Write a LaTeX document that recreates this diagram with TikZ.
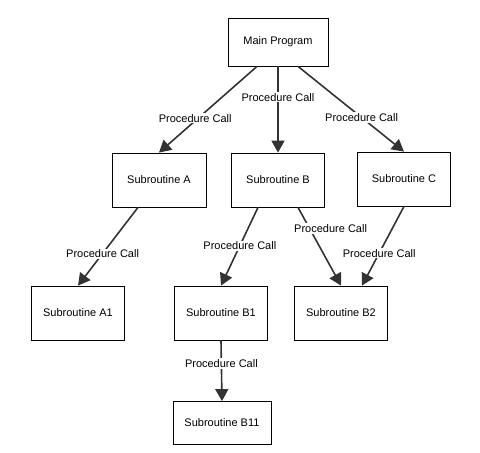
\documentclass[tikz,border=0pt]{standalone}
\usepackage{fontspec}
\setmainfont{Liberation Sans}
\usetikzlibrary{arrows.meta}
\begin{document}
\begin{tikzpicture}[x=1pt,y=-1pt,
  routine/.style={draw=black, line width=0.8pt, fill=white, minimum width=94pt, minimum height=54pt, inner sep=0pt, font=\fontsize{11}{13}\selectfont},
  call/.style={draw=black!80, line width=1.6pt, -{Triangle[length=12pt,width=13pt]}},
  calltext/.style={fill=white, inner sep=1pt, font=\fontsize{11}{13}\selectfont}]
%% The picture is laid out in pixel units, with y going down, so the page keeps the size of the drawing.
\useasboundingbox (0,0) rectangle (480,453);
%% Top level: the main program.
\node[routine, minimum width=100pt, minimum height=48pt] (main) at (278,42) {Main Program};
%% Second row of subroutines.
\node[routine] (suba) at (159,180) {Subroutine A};
\node[routine, minimum width=93pt] (subb) at (278,180) {Subroutine B};
\node[routine, minimum width=93pt] (subc) at (404,179) {Subroutine C};
%% Third row, and the last box under B1.
\node[routine, minimum width=93pt] (suba1) at (78,313) {Subroutine A1};
\node[routine, minimum width=93pt] (subb1) at (221,313) {Subroutine B1};
\node[routine, minimum width=93pt] (subb2) at (341,313) {Subroutine B2};
\node[routine, minimum width=98pt, minimum height=43pt] (subb11) at (222,423) {Subroutine B11};
%% The calls. Each label sits on its arrow with a white background.
\draw[call] ([xshift=-21pt]main.south) -- node[calltext, pos=0.6, xshift=-3pt] {Procedure Call} (suba.north);
\draw[call] (main.south) -- node[calltext, pos=0.36] {Procedure Call} (subb.north);
\draw[call] ([xshift=20pt]main.south) -- node[calltext, pos=0.6] {Procedure Call} (subc.north);
\draw[call] ([xshift=-21pt]suba.south) -- node[calltext, pos=0.59] {Procedure Call} (suba1.north);
\draw[call] ([xshift=-20pt]subb.south) -- node[calltext, pos=0.49] {Procedure Call} (subb1.north);
\draw[call] ([xshift=20pt]subb.south) -- node[calltext, pos=0.27, xshift=21pt] {Procedure Call} (subb2.north);
\draw[call] (subc.south) -- node[calltext, pos=0.59] {Procedure Call} ([xshift=21pt]subb2.north);
\draw[call] (subb1.south) -- node[calltext, pos=0.38] {Procedure Call} (subb11.north);
\end{tikzpicture}
\end{document}
